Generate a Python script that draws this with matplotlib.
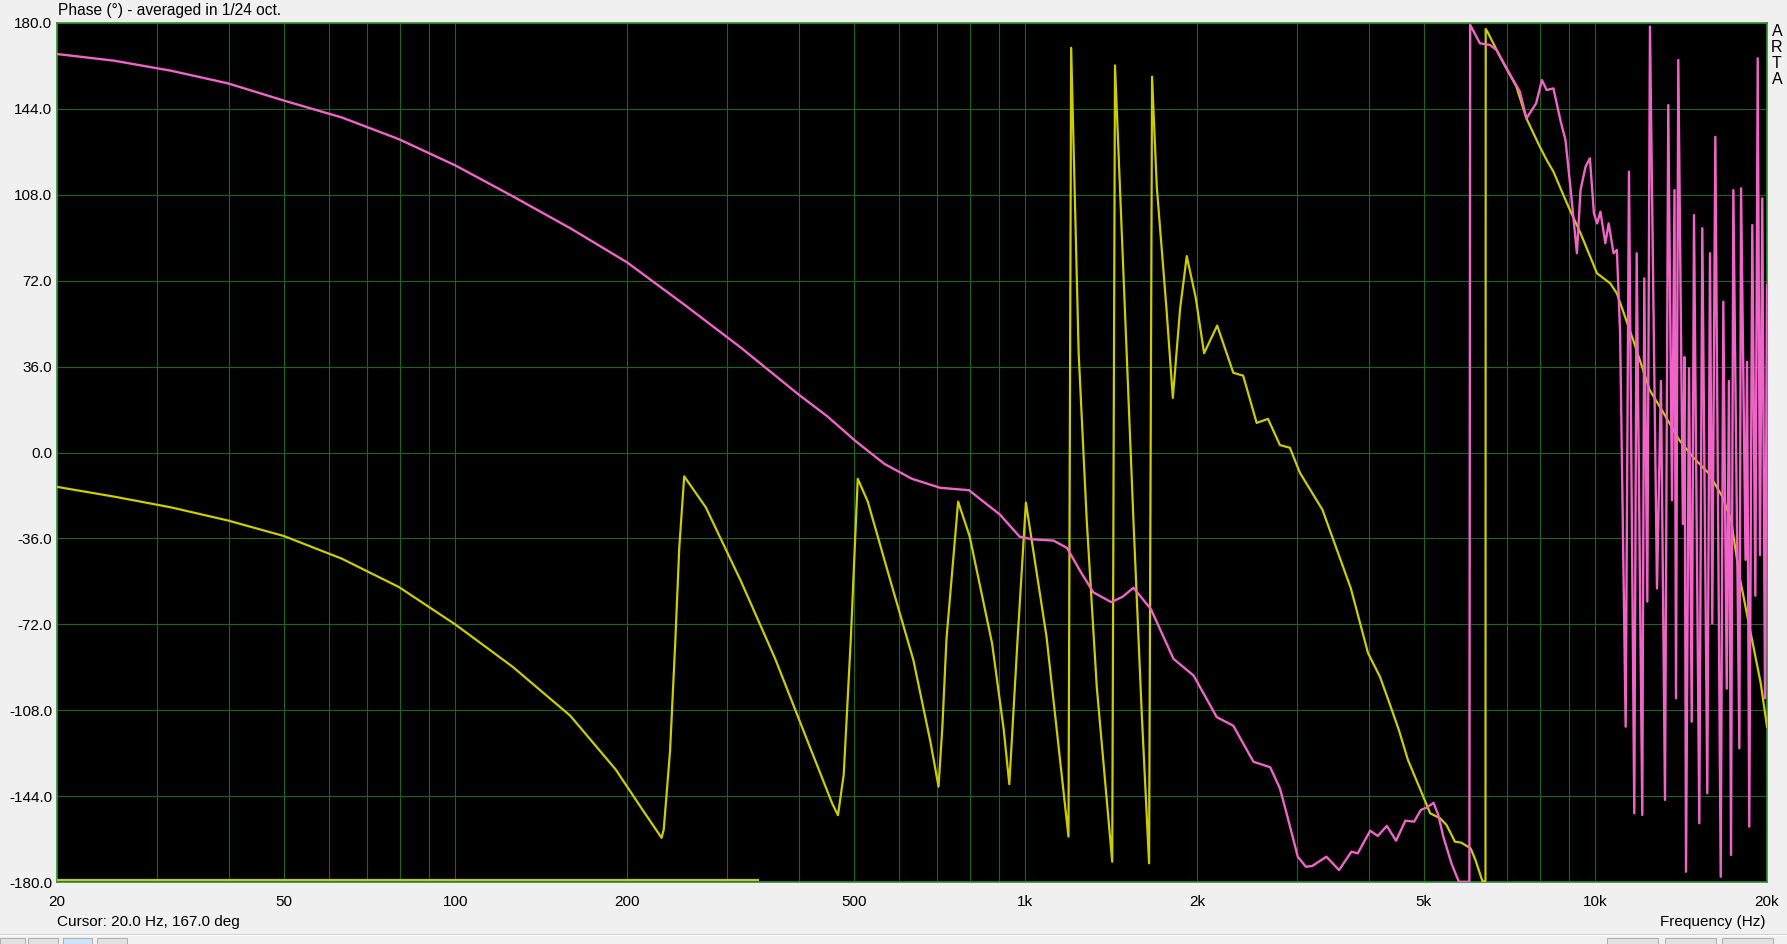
import matplotlib
matplotlib.use("Agg")
import matplotlib.pyplot as plt
from matplotlib.patches import Rectangle
from matplotlib.lines import Line2D

plt.rcParams['font.family'] = ['Liberation Sans', 'DejaVu Sans']

W, H = 1787, 944

# phase curves (Hz, degrees)
pink_freq = [20, 25.2, 31.7, 39.9, 50, 63.2, 79.6, 100, 126, 159, 200, 252, 317, 400, 449, 504,
             566, 632, 709, 796, 902, 977, 1030, 1120, 1183, 1250, 1316, 1414, 1480, 1547, 1660,
             1819, 1973, 2166, 2316, 2512, 2688, 2796, 2872, 3005, 3104, 3185, 3373, 3550, 3732,
             3828, 4026, 4150, 4306, 4470, 4640, 4808, 4940, 5070, 5200, 5300, 5410, 5590,
             5760, 6010, 6030, 6270, 6528, 6707, 6985, 7370, 7568, 7870, 8056, 8212, 8440,
             8680, 8860, 9050, 9280, 9417, 9610, 9780, 9940, 10070, 10205, 10410, 10550,
             10760, 10905, 11050, 11300, 11452, 11700, 11814, 12084, 12182, 12332, 12466,
             12824, 13032, 13246, 13422, 13626, 13764, 13848, 13976, 14240, 14330, 14420,
             14596, 14756, 14892, 15214, 15400, 15714, 15886, 16034, 16232, 16590, 16764,
             16998, 17150, 17294, 17458, 17886, 18010, 18340, 18450, 18618, 18846, 19080,
             19264, 19442, 19622, 19840, 20000]
pink_phase = [167, 164.2, 160, 154.7, 147.5, 140.4, 131.3, 120.3, 107.4, 94, 79.7, 62, 43.9,
              24.3, 15.2, 4.7, -4.8, -11, -14.8, -15.8, -26, -35.3, -36.4, -36.9, -40, -50,
              -58.6, -62.7, -60.5, -56.7, -65.6, -86.5, -93.5, -110.9, -114.5, -129.6, -131.9,
              -140.8, -151.2, -169.4, -173.6, -173.3, -169.4, -175, -167.3, -168, -158.5,
              -160.7, -156.5, -162.7, -154.3, -154.7, -149.8, -148.7, -146.8, -151.9, -161,
              -172.2, -179.9, -179.9, 179.2, 171.5, 170.8, 168.7, 161, 151.2, 140, 146.3, 156.1,
              151.9, 152.6, 139.3, 131, 110, 83.5, 110, 119.8, 123.3, 100.2, 96, 100.9, 87.7, 96,
              83.5, 84.9, 49.9, -114.9, 117.7, -151.2, 83.5, -151.9, 73, -62.5, 178.5, -57, 30,
              -145.6, 145.6, -20, 110, -103, 164.5, -30, 40, -175.7, 35.3, -112.8, 99.5, -155.4,
              94, -142.8, 83.5, -71.6, 132.3, -177.8, 63.2, -99, 30, -168.7, 110, -124, 110.7,
              -45, 38, -156.8, 95.3, -60, 165.2, -43, 106.5, -103, 70]

yellow_freq = [20, 25.2, 31.7, 39.9, 50, 63.2, 79.6, 100, 126, 159, 191, 214, 230, 232, 238,
               243, 247, 252, 275, 317, 364, 418, 458, 469, 480, 494, 508, 529, 580, 636, 681,
               704, 715, 727, 762, 798, 874, 916, 937, 969, 1002, 1089, 1190, 1203, 1240, 1281,
               1334, 1420, 1436, 1485, 1547, 1600, 1648, 1668, 1700, 1768, 1814, 1868, 1919,
               1990, 2058, 2170, 2316, 2410, 2545, 2664, 2796, 2910, 3031, 3320, 3724, 3990,
               4188, 4332, 4520, 4690, 4990, 5130, 5340, 5480, 5670, 5815, 6040, 6160, 6340,
               6414, 6420, 6460, 6802, 7268, 7568, 7987, 8212, 8440, 8914, 9417, 10065, 10615,
               10905, 11650, 12450, 13130, 14030, 14800, 15800, 16700, 17300, 17900, 18680,
               19500, 20000]
yellow_phase = [-14.4, -18.5, -23, -28.5, -35, -44.5, -56.4, -72.1, -89.8, -110.3, -132.8,
                -150.5, -161.5, -158, -125, -80, -40, -10, -23, -54, -86.5, -123, -147, -152,
                -135, -78, -11, -20.6, -54, -87, -121, -140, -115, -78, -20.6, -35, -80, -116,
                -139, -78, -21, -77.2, -161, 169.6, 41.6, -28.3, -98.2, -171.5, 162.2, 76.5,
                -28.3, -109.6, -172.2, 157.5, 111.4, 60.2, 22.9, 60.2, 82.3, 64.8, 41.6, 53.2,
                33.4, 32.2, 12.4, 14.1, 3.1, 2, -8.5, -24, -57, -84, -94, -103.7, -116.3,
                -128.9, -144.3, -151.2, -153.3, -156.1, -163.1, -163.5, -165.9, -170.8, -179.9,
                -179.5, 177.5, 176.5, 165.9, 153.3, 140, 128.2, 122.6, 117.7, 104.4, 91.9, 75.1,
                70.9, 66.7, 47.1, 26.2, 17.1, 5.2, -1.7, -8.7, -18.5, -28.3, -52, -74.4, -96.7,
                -114.9]

floor_freq = [20, 340]
floor_phase = [-179.2, -179.2]

x_ticks = [20, 50, 100, 200, 500, 1000, 2000, 5000, 10000, 20000]
x_labels = ['20', '50', '100', '200', '500', '1k', '2k', '5k', '10k', '20k']
y_ticks = [180, 144, 108, 72, 36, 0, -36, -72, -108, -144, -180]

grid_freqs = [m * d for d in [10, 100, 1000, 10000] for m in range(1, 10) if 20 <= m * d <= 20000]

fig = plt.figure(figsize=(W / 100, H / 100), dpi=100, facecolor='#f0f0f0')
ax = fig.add_axes([57 / W, (H - 882) / H, 1710 / W, 859 / H])
ax.set_facecolor('black')
ax.set_xscale('log')
ax.set_xlim(20, 20000)
ax.set_ylim(-180, 180)

for f in grid_freqs:
    ax.axvline(f, color='#1b661b', lw=0.8, zorder=1)
for p in y_ticks:
    ax.axhline(p, color='#1b661b', lw=0.8, zorder=1)

ax.plot(floor_freq, floor_phase, color='#c4c430', lw=1.6, zorder=3)
ax.plot(yellow_freq, yellow_phase, color='#cccc00', lw=1.6, zorder=3)
ax.plot(pink_freq, pink_phase, color='#f064c8', lw=1.7, zorder=4)

ax.set_xticks(x_ticks)
ax.set_xticklabels(x_labels)
ax.set_xticks([], minor=True)
ax.set_yticks(y_ticks)
ax.set_yticklabels(['%.1f' % v for v in y_ticks])
ax.tick_params(axis='both', which='both', length=0, labelsize=11, colors='black')
ax.tick_params(axis='x', pad=9.5)
ax.tick_params(axis='y', pad=3.5)
for s in ax.spines.values():
    s.set_color('#2e8b2e')
    s.set_linewidth(1.2)

fig.text(58 / W, 1 - 11 / H, 'Phase (°) - averaged in 1/24 oct.', ha='left', va='center', fontsize=11.2)
for i, ch in enumerate('ARTA'):
    fig.text(1777 / W, 1 - (32 + 15.7 * i) / H, ch, ha='center', va='center', fontsize=11.5)
fig.text(57 / W, 1 - 922 / H, 'Cursor: 20.0 Hz, 167.0 deg', ha='left', va='center', fontsize=11)
fig.text(1766 / W, 1 - 922 / H, 'Frequency (Hz)', ha='right', va='center', fontsize=11)

# window toolbar strip at the bottom
fig.add_artist(Line2D([0, 1], [1 - 935 / H, 1 - 935 / H], transform=fig.transFigure,
                      color='white', lw=1))
fig.add_artist(Line2D([0, 1], [1 - 934 / H, 1 - 934 / H], transform=fig.transFigure,
                      color='#d0d0d0', lw=0.7))
for x0, x1, c in [(0, 25, '#e1e1e1'), (28, 58, '#e1e1e1'), (63, 92, '#cce4f7'), (97, 127, '#e1e1e1'),
                  (1607, 1658, '#e1e1e1'), (1665, 1716, '#e1e1e1'), (1722, 1773, '#e1e1e1')]:
    fig.add_artist(Rectangle((x0 / W, 0), (x1 - x0) / W, 6 / H, transform=fig.transFigure,
                             facecolor=c, edgecolor='#adadad', lw=0.7))

fig.savefig('out.png', dpi=100, facecolor=fig.get_facecolor())
